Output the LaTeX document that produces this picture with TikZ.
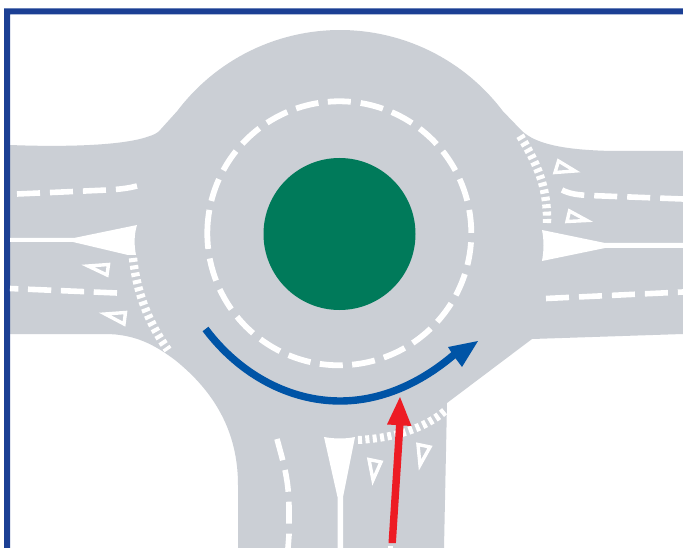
\documentclass[tikz,border=0pt]{standalone}
\definecolor{road}{HTML}{CBCFD5}
\definecolor{island}{HTML}{007A5A}
\definecolor{frameblue}{HTML}{1B3F94}
\definecolor{circblue}{HTML}{0054A6}
\definecolor{entryred}{HTML}{ED1C24}
\tikzset{
  lanedash/.style={white,line width=5.6pt,dash pattern=on 23pt off 10pt},
  giveway/.style={white,line width=8.4pt,dash pattern=on 4pt off 3.4pt},
  yieldtri/.style={white,line width=3.4pt,line join=miter},
  splitter/.style={fill=white,draw=none},
}
\begin{document}
\begin{tikzpicture}[x=1pt,y=-1pt]
\useasboundingbox (0,0) rectangle (683,548);
\fill[white] (0,0) rectangle (683,548);
% road surface
\fill[road] (10,145) .. controls (60,147) and (120,146) .. (147,137)
  .. controls (153,135) and (157,134) .. (161,129)
  -- plot[domain=143:37,samples=60] ({340+204*cos(\x)},{234-204*sin(\x)})
  -- (522,131) .. controls (535,143) and (560,150) .. (613,151)
  -- (683,151) -- (683,334) -- (532,339) -- (447,403) -- (444,548) -- (238,548) -- (238,485)
  .. controls (238,445) and (225,400) .. (175,360)
  .. controls (155,345) and (135,334) .. (105,334)
  -- (10,334) -- cycle;
% frame
\fill[frameblue] (4,548) -- (4,8.5) -- (683,8.5) -- (683,14.5) -- (10,14.5) -- (10,548) -- cycle;
% central island
\fill[island] (339.5,234) circle[radius=76];
% circulating lane dashes
\foreach \a in {90,104.1,118.2,132.3,146.5,160.8,196,210.1,224.2,238.3,252.4,266.5,280.6,294.7,308.8,322.9,337,351.1,5.2,19.3,33.4,47.5,61.6,75.7}{
  \draw[white,line width=5.8pt] plot[domain={\a-5}:{\a+5},samples=8] ({339.3+132*cos(\x)},{233.3-132*sin(\x)});
}
\draw[white,line width=5.8pt] plot[domain=169.8:186.8,samples=10] ({339.3+132*cos(\x)},{233.3-132*sin(\x)});
% splitter islands
\path[splitter] (10,238) -- (74,238) -- (137,225) .. controls (134,235) and (134,245) .. (136,255)
  -- (128,255) -- (73,242) -- (10,242) -- cycle;
\path[splitter] (683,243) -- (605,243) -- (542,230) .. controls (544,240) and (544,250) .. (542,261)
  -- (605,248) -- (683,248) -- cycle;
\path[splitter] (324,437) .. controls (335,439) and (345,439) .. (355,437) -- (343,497) -- (343,548)
  -- (337.5,548) -- (337.5,497) -- cycle;
% lane lines
\draw[lanedash] (17,194) -- (85,191) .. controls (105,190) and (122,190) .. (137,186);
\draw[lanedash,dash pattern=on 23.3pt off 9.6pt] (117,293) -- (10,288.5);
\draw[lanedash] (562,190) .. controls (570,194) and (578,195) .. (590,195.5) -- (683,199);
\draw[lanedash] (546,298.5) -- (683,292);
\draw[lanedash,dash pattern=on 22pt off 10pt] (277,439) .. controls (284,465) and (289,480) .. (289,510) -- (289,535) -- (288,548);
% give-way lines
\draw[giveway] (133,258) .. controls (137,295) and (150,325) .. (168,350);
\draw[giveway] (547,223) .. controls (548,185) and (535,160) .. (519,134);
\draw[giveway,line width=8pt] (358,440) .. controls (395,438) and (425,428) .. (445,411);
% yield triangles
\draw[yieldtri] (88,266) -- (108.5,264.5) -- (107,275) -- cycle;
\draw[yieldtri] (105,314) -- (125.5,312.5) -- (124,324) -- cycle;
\draw[yieldtri] (558.5,161) -- (575,171) -- (555,172.5) -- cycle;
\draw[yieldtri] (569.5,211) -- (587,220.5) -- (567,221.5) -- cycle;
\draw[yieldtri] (369,459.5) -- (381,462) -- (373,480) -- cycle;
\draw[yieldtri] (418,444.5) -- (430,447) -- (420,465) -- cycle;
% circulating arrow
\draw[circblue,line width=7.4pt] (205.5,329) .. controls (240,375) and (290,401) .. (340,401)
  .. controls (385,401) and (425,380) .. (456,353);
\fill[circblue] (478,341) -- (448,347) -- (453,355) -- (462,367) -- cycle;
% entering arrow
\fill[white] (388,546) rectangle (393,548);
\fill[entryred] (388.5,543) -- (395.9,543) -- (403.5,425.5) -- (411.5,426) -- (400,397) -- (387,424.5) -- (396,425) -- cycle;
\end{tikzpicture}
\end{document}
